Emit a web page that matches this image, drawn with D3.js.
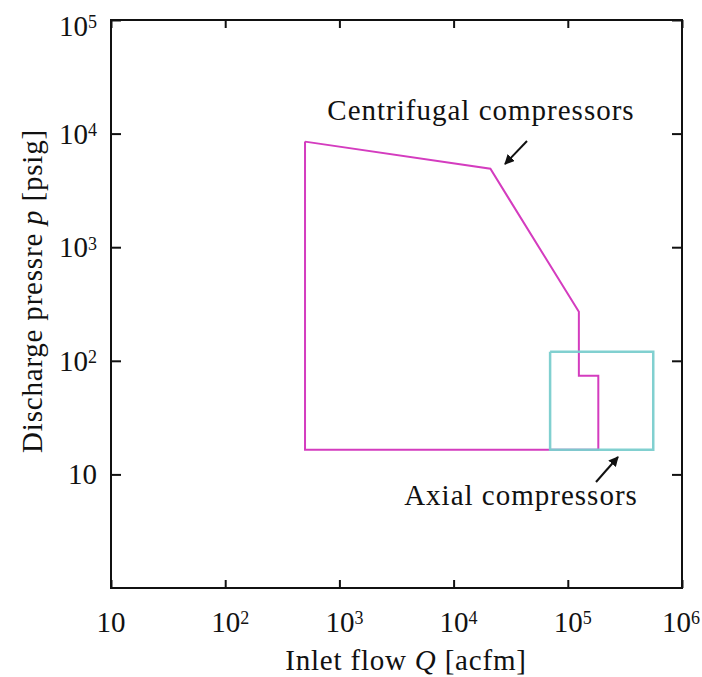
<!DOCTYPE html>
<html>
<head>
<meta charset="utf-8">
<script src="https://cdn.jsdelivr.net/npm/d3@7/dist/d3.min.js"></script>
<style>
  body { margin: 0; background: #fff; }
  svg text { font-family: "Liberation Serif", "DejaVu Serif", serif; fill: #111; }
</style>
</head>
<body>
<div class="viewbox"></div>
<script>
// data (acfm, psig)
const centrifugalQ = [500, 21000, 125000, 125000, 185000, 185000, 500, 500];
const centrifugalP = [8500, 4900, 270, 74, 74, 16.5, 16.5, 8500];
const axialQ = [70000, 560000, 560000, 70000, 70000];
const axialP = [120, 120, 16.5, 16.5, 120];

const xTicks = [10, 1e2, 1e3, 1e4, 1e5, 1e6];
const yTicks = [10, 1e2, 1e3, 1e4, 1e5];
const xLabels = ["10", "102", "103", "104", "105", "106"];
const yLabels = ["10", "102", "103", "104", "105"];

const svg_width = 702;
const svg_height = 677;
const margin = { left: 111, right: 20, top: 20, bottom: 89 };
const fs = 29;

let svg = d3.select(".viewbox")
  .append("svg")
  .attr("width", svg_width)
  .attr("height", svg_height);

let x = d3.scaleLog().domain([10, 1e6]).range([margin.left, svg_width - margin.right]);
let y = d3.scaleLog().domain([1, 1e5]).range([svg_height - margin.bottom, margin.top]);

function tickLabel(sel, txt) {
  // "10" + exponent as superscript
  sel.text(null);
  sel.append("tspan").text("10");
  if (txt.length > 2) {
    sel.append("tspan").attr("dy", "-0.42em").style("font-size", "18px").text(txt.slice(2));
  }
}

// ticks point inward on all four sides
svg.append("g")
  .attr("transform", `translate(0,${y(1)})`)
  .call(d3.axisBottom(x).tickValues(xTicks).tickSize(-8).tickFormat(""));
svg.append("g")
  .attr("transform", `translate(0,${y(1e5)})`)
  .call(d3.axisTop(x).tickValues(xTicks).tickSize(-8).tickFormat(""));
svg.append("g")
  .attr("transform", `translate(${x(10)},0)`)
  .call(d3.axisLeft(y).tickValues(yTicks).tickSize(-10).tickFormat(""));
svg.append("g")
  .attr("transform", `translate(${x(1e6)},0)`)
  .call(d3.axisRight(y).tickValues(yTicks).tickSize(-10).tickFormat(""));

svg.selectAll(".domain").remove();
svg.selectAll(".tick line").attr("stroke", "#111").attr("stroke-width", 2);

// frame
svg.append("rect")
  .attr("x", x(10)).attr("y", y(1e5))
  .attr("width", x(1e6) - x(10)).attr("height", y(1) - y(1e5))
  .attr("fill", "none").attr("stroke", "#111").attr("stroke-width", 2);

// tick labels
svg.selectAll(".xlab")
  .data(xTicks)
  .enter()
  .append("text")
  .attr("class", "xlab")
  .attr("x", (d, i) => i === xTicks.length - 1 ? 700 : x(d) + (i > 0 ? 5 : 0))
  .attr("y", y(1) + 44)
  .attr("text-anchor", (d, i) => i === xTicks.length - 1 ? "end" : "middle")
  .style("font-size", fs + "px")
  .each(function (d, i) { tickLabel(d3.select(this), xLabels[i]); });

svg.selectAll(".ylab")
  .data(yTicks)
  .enter()
  .append("text")
  .attr("class", "ylab")
  .attr("x", x(10) - 14)
  .attr("y", d => y(d) + (d === 1e5 ? 16 : 10))
  .attr("text-anchor", "end")
  .style("font-size", fs + "px")
  .each(function (d, i) { tickLabel(d3.select(this), yLabels[i]); });

// axis titles
let xt = svg.append("text")
  .attr("x", 406)
  .attr("y", 670)
  .attr("text-anchor", "middle")
  .style("font-size", fs + "px")
  .style("letter-spacing", "0.8px");
xt.append("tspan").text("Inlet flow ");
xt.append("tspan").style("font-style", "italic").text("Q");
xt.append("tspan").text(" [acfm]");

let yt = svg.append("text")
  .attr("transform", `translate(42,291) rotate(-90)`)
  .attr("text-anchor", "middle")
  .style("font-size", fs + "px")
  .style("letter-spacing", "0.8px");
yt.append("tspan").text("Discharge pressre ");
yt.append("tspan").style("font-style", "italic").text("p");
yt.append("tspan").text(" [psig]");

// regions
let line = d3.line().x(d => x(d[0])).y(d => y(d[1]));

svg.append("path")
  .datum(centrifugalQ.map((q, i) => [q, centrifugalP[i]]))
  .attr("d", line)
  .attr("fill", "none")
  .attr("stroke", "#d43cbf")
  .attr("stroke-width", 2);

svg.append("path")
  .datum(axialQ.map((q, i) => [q, axialP[i]]))
  .attr("d", line)
  .attr("fill", "none")
  .attr("stroke", "#7acece")
  .attr("stroke-width", 2.5)
  .attr("stroke-opacity", 0.95);

// annotations
svg.append("defs").append("marker")
  .attr("id", "head")
  .attr("viewBox", "0 0 10 10")
  .attr("refX", 9).attr("refY", 5)
  .attr("markerWidth", 5).attr("markerHeight", 5)
  .attr("orient", "auto")
  .append("path")
  .attr("d", "M0,0 L10,5 L0,10 z")
  .attr("fill", "#111");

svg.append("text")
  .attr("x", 481).attr("y", 120)
  .attr("text-anchor", "middle")
  .style("font-size", fs + "px")
  .style("letter-spacing", "1px")
  .text("Centrifugal compressors");
svg.append("line")
  .attr("x1", 527).attr("y1", 141).attr("x2", 505).attr("y2", 164)
  .attr("stroke", "#111").attr("stroke-width", 2)
  .attr("marker-end", "url(#head)");

svg.append("text")
  .attr("x", 521).attr("y", 505)
  .attr("text-anchor", "middle")
  .style("font-size", fs + "px")
  .style("letter-spacing", "1px")
  .text("Axial compressors");
svg.append("line")
  .attr("x1", 596).attr("y1", 482).attr("x2", 618).attr("y2", 457)
  .attr("stroke", "#111").attr("stroke-width", 2)
  .attr("marker-end", "url(#head)");
</script>
</body>
</html>
